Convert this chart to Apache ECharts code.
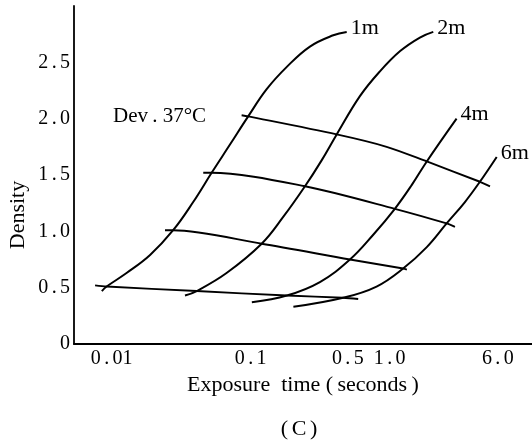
<!DOCTYPE html>
<html>
<head>
<meta charset="utf-8">
<script src="https://cdn.jsdelivr.net/npm/echarts@6/dist/echarts.min.js"></script>
<style>
  html, body { margin: 0; padding: 0; background: #fff; }
  #chart { width: 532px; height: 443px; }
</style>
</head>
<body>
<div id="chart"></div>
<script>
// ---- Data (exposure time in seconds, density) ----
const xTickValues = [0.01, 0.1, 0.5, 1, 6];
const xTickLabels = ['0.01', '0.1', '0.5', '1.0', '6.0'];
const yTickLabels = ['0', '0.5', '1.0', '1.5', '2.0', '2.5'];

// Characteristic curves by distance
const curveNames = ['1m', '2m', '4m', '6m'];
const t1 = [0.0085, 0.0092, 0.0128, 0.0189, 0.0277, 0.0386, 0.0524, 0.071, 0.096, 0.130, 0.182, 0.267, 0.393, 0.491];
const d1 = [0.47, 0.51, 0.63, 0.79, 1.01, 1.26, 1.52, 1.77, 2.02, 2.26, 2.46, 2.64, 2.74, 2.77];
const t2 = [0.0337, 0.0409, 0.0671, 0.120, 0.172, 0.246, 0.324, 0.416, 0.611, 0.851, 1.19, 1.65, 2.06];
const d2 = [0.43, 0.47, 0.63, 0.89, 1.13, 1.40, 1.63, 1.86, 2.20, 2.42, 2.60, 2.72, 2.77];
const t4 = [0.102, 0.182, 0.315, 0.518, 0.762, 1.09, 1.44, 1.85, 3.03];
const d4 = [0.37, 0.43, 0.55, 0.75, 0.97, 1.20, 1.41, 1.62, 2.00];
const t6 = [0.203, 0.463, 0.805, 1.25, 1.85, 2.57, 3.48, 4.46, 5.89];
const d6 = [0.33, 0.41, 0.51, 0.67, 0.86, 1.07, 1.26, 1.44, 1.66];

// Iso-density cross lines
const tA = [0.0076, 0.0092, 0.0409, 0.182, 0.463, 0.594];
const dA = [0.52, 0.51, 0.47, 0.43, 0.41, 0.40];
const tB = [0.0242, 0.0277, 0.120, 0.518, 1.25, 1.33];
const dB = [1.01, 1.01, 0.89, 0.75, 0.67, 0.66];
const tC = [0.0456, 0.0524, 0.246, 1.09, 2.57, 2.95];
const dC = [1.52, 1.52, 1.40, 1.20, 1.07, 1.04];
const tD = [0.0861, 0.0962, 0.416, 0.951, 1.85, 4.46, 5.27];
const dD = [2.03, 2.02, 1.86, 1.75, 1.62, 1.44, 1.40];

const annotation = 'Dev\u2009. 37\u00B0C';
const xTitle = 'Exposure  time (\u2009seconds\u2009)';
const yTitle = 'Density';
const caption = '(\u2006C\u2006)';

// ---- Build ----
const FONT = "'Liberation Serif', 'DejaVu Serif', serif";
const zip = (xs, ys) => xs.map((x, i) => [x, ys[i]]);
const spaced = s => s.replace('.', '\u2006.\u2006');

function curveSeries(name, xs, ys) {
  return {
    name: name, type: 'line', data: zip(xs, ys), smooth: 0.4,
    symbol: 'none', lineStyle: { color: '#000', width: 2 },
    endLabel: {
      show: true, formatter: '{a}', distance: 4, offset: [0, -4],
      color: '#000', fontSize: 22, fontFamily: FONT
    }
  };
}
function crossSeries(xs, ys) {
  return {
    type: 'line', data: zip(xs, ys), smooth: 0.3,
    symbol: 'none', lineStyle: { color: '#000', width: 1.9 }
  };
}

const chart = echarts.init(document.getElementById('chart'), null, { renderer: 'canvas' });
chart.setOption({
  animation: false,
  backgroundColor: '#fff',
  grid: { left: 74, right: 0, top: 6, bottom: 99 },
  xAxis: {
    type: 'log', logBase: 10, min: 0.00536, max: 10.57,
    name: xTitle, nameLocation: 'middle', nameGap: 30,
    nameTextStyle: { color: '#000', fontSize: 22, fontFamily: FONT },
    axisLine: { show: true, onZero: false, lineStyle: { color: '#000', width: 1.8 } },
    axisTick: { show: false },
    minorTick: { show: false },
    splitLine: { show: false },
    axisLabel: {
      customValues: xTickValues, margin: 5,
      color: '#000', fontSize: 20, fontFamily: FONT,
      formatter: function (v) {
        let best = 0;
        for (let i = 1; i < xTickValues.length; i++) {
          if (Math.abs(Math.log10(xTickValues[i]) - Math.log10(v)) <
              Math.abs(Math.log10(xTickValues[best]) - Math.log10(v))) best = i;
        }
        return spaced(xTickLabels[best]);
      }
    }
  },
  yAxis: {
    type: 'value', min: 0, max: 3, interval: 0.5,
    axisLine: { show: true, lineStyle: { color: '#000', width: 1.8 } },
    axisTick: { show: false },
    splitLine: { show: false },
    axisLabel: {
      margin: 4, color: '#000', fontSize: 20, fontFamily: FONT,
      formatter: function (v) {
        const i = Math.round(v / 0.5);
        return i < yTickLabels.length ? spaced(yTickLabels[i]) : '';
      }
    }
  },
  series: [
    curveSeries(curveNames[0], t1, d1),
    curveSeries(curveNames[1], t2, d2),
    curveSeries(curveNames[2], t4, d4),
    curveSeries(curveNames[3], t6, d6),
    crossSeries(tA, dA),
    crossSeries(tB, dB),
    crossSeries(tC, dC),
    crossSeries(tD, dD)
  ],
  graphic: [
    { type: 'text', x: 18, y: 215, rotation: Math.PI / 2,
      style: { text: yTitle, fill: '#000', fontSize: 22, fontFamily: FONT, align: 'center', verticalAlign: 'middle' } },
    { type: 'text', x: 113, y: 116,
      style: { text: annotation, fill: '#000', fontSize: 21, fontFamily: FONT, align: 'left', verticalAlign: 'middle' } },
    { type: 'text', x: 299, y: 429,
      style: { text: caption, fill: '#000', fontSize: 22, fontFamily: FONT, align: 'center', verticalAlign: 'middle' } }
  ]
});
</script>
</body>
</html>
